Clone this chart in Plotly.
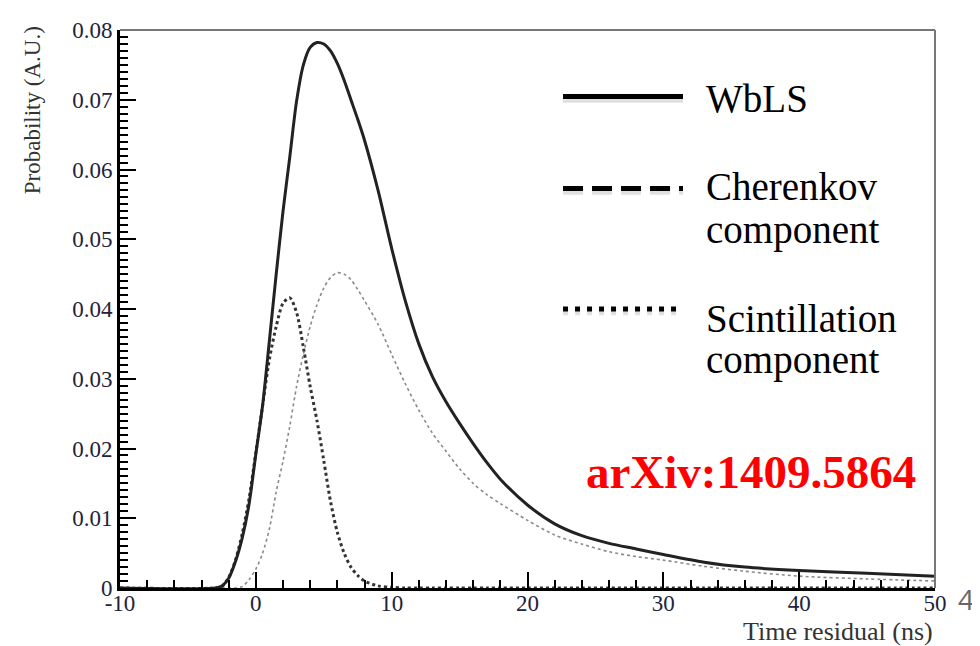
"""Time-residual PDFs for WbLS with its Cherenkov and scintillation parts."""

import plotly.graph_objects as go

# Time residual grid (ns) shared by the three curves
TIME_NS = [
    -10, -3, -2.5, -2, -1.5, -1, -0.5, 0, 0.5, 1, 1.5, 2, 2.5, 3, 3.5, 4, 4.5,
    5, 5.5, 6, 6.5, 7, 7.5, 8, 9, 10, 11, 12, 13, 14, 15, 16, 17, 18, 20, 22,
    24, 26, 28, 30, 33, 36, 40, 45, 50,
]

WBLS = [
    0, 0, 0.0003, 0.0014, 0.0038, 0.0072, 0.0120, 0.0192, 0.0262, 0.0355,
    0.0450, 0.0540, 0.0618, 0.0698, 0.0750, 0.0775, 0.0782, 0.0780, 0.0770,
    0.0752, 0.0728, 0.0700, 0.0672, 0.0642, 0.0570, 0.0487, 0.0412, 0.0350,
    0.0303, 0.0267, 0.0236, 0.0207, 0.0180, 0.0156, 0.0119, 0.0092, 0.0075,
    0.0064, 0.0056, 0.0048, 0.0037, 0.0030, 0.0025, 0.0021, 0.0017,
]

CHERENKOV = [
    0, 0, 0.0002, 0.0015, 0.0040, 0.0078, 0.0128, 0.0194, 0.0262, 0.0328,
    0.0375, 0.0408, 0.0416, 0.0395, 0.0345, 0.0289, 0.0240, 0.0183, 0.0124,
    0.0080, 0.0050, 0.0030, 0.0018, 0.0010, 0.0003, 0.0001, 0, 0, 0, 0, 0, 0,
    0, 0, 0, 0, 0, 0, 0, 0, 0, 0, 0, 0, 0,
]

SCINTILLATION = [
    0, 0, 0, 0, 0, 0.0002, 0.0012, 0.0027, 0.0050, 0.0085, 0.0138, 0.0182,
    0.0232, 0.0289, 0.0335, 0.0375, 0.0406, 0.0430, 0.0445, 0.0452, 0.0450,
    0.0442, 0.0428, 0.0412, 0.0378, 0.0335, 0.0293, 0.0255, 0.0222, 0.0196,
    0.0171, 0.0150, 0.0134, 0.0121, 0.0097, 0.0076, 0.0063, 0.0052, 0.0045,
    0.0040, 0.0031, 0.0024, 0.0017, 0.0013, 0.0010,
]

X_TICKS = [-10, 0, 10, 20, 30, 40, 50]
X_TICK_TEXT = ["-10", "0", "10", "20", "30", "40", "50"]
Y_TICKS = [0, 0.01, 0.02, 0.03, 0.04, 0.05, 0.06, 0.07, 0.08]

SERIF = "Liberation Serif"
TICK_COLOR = "#22223a"

fig = go.Figure()
fig.add_trace(
    go.Scatter(
        x=TIME_NS, y=SCINTILLATION, mode="lines", name="Scintillation component",
        line={"color": "#8a8a8a", "width": 1.6, "dash": "dot", "shape": "spline", "smoothing": 0.8},
    )
)
fig.add_trace(
    go.Scatter(
        x=TIME_NS, y=CHERENKOV, mode="lines", name="Cherenkov component",
        line={"color": "#333333", "width": 3, "dash": "dot", "shape": "spline", "smoothing": 0.8},
    )
)
fig.add_trace(
    go.Scatter(
        x=TIME_NS, y=WBLS, mode="lines", name="WbLS",
        line={"color": "#222222", "width": 3, "shape": "spline", "smoothing": 0.8},
    )
)

# ROOT frame: top and right edges are thin and grey
fig.add_shape(type="line", xref="paper", yref="paper", x0=0, x1=1, y0=1, y1=1,
              line={"color": "#777777", "width": 2})
fig.add_shape(type="line", xref="paper", yref="paper", x0=1, x1=1, y0=0, y1=1,
              line={"color": "#777777", "width": 2})

# Hand-drawn slide legend (long thick strokes, not Plotly's legend)
legend_rows = [("solid", 0.8807), ("20px,9px", 0.7158), ("5px,7px", 0.5000)]
for dash, y in legend_rows:
    fig.add_shape(
        type="line", xref="paper", yref="paper", x0=0.5436, x1=0.6908, y0=y - 0.005, y1=y - 0.005,
        line={"color": "rgba(0,0,0,0.12)", "width": 7, "dash": dash},
    )
    fig.add_shape(
        type="line", xref="paper", yref="paper", x0=0.5436, x1=0.6908, y0=y, y1=y,
        line={"color": "black", "width": 5, "dash": dash},
    )

legend_text = [
    ("WbLS", 0.877),
    ("Cherenkov", 0.719),
    ("component", 0.642),
    ("Scintillation", 0.4825),
    ("component", 0.4088),
]
for text, y in legend_text:
    fig.add_annotation(
        text=text, xref="paper", yref="paper", x=0.7165, y=y, xanchor="left", yanchor="middle",
        showarrow=False, font={"family": SERIF, "size": 39, "color": "black"},
    )

fig.add_annotation(
    text="<b>arXiv:1409.5864</b>", xref="paper", yref="paper", x=0.774, y=0.207,
    xanchor="center", yanchor="middle", showarrow=False,
    font={"family": SERIF, "size": 47, "color": "#ff0000"},
)

# Axis titles placed ROOT-style: y title at top, x title at right
fig.add_annotation(
    text="Probability (A.U.)", xref="paper", yref="paper", x=-0.107, y=1.01, textangle=-90,
    xanchor="center", yanchor="top", showarrow=False,
    font={"family": SERIF, "size": 23, "color": "#333333"},
)
fig.add_annotation(
    text="Time residual (ns)", xref="paper", yref="paper", x=1.0, y=-0.048,
    xanchor="right", yanchor="top", showarrow=False,
    font={"family": SERIF, "size": 26, "color": "#333333"},
)

# slide page number
fig.add_annotation(
    text="4", xref="paper", yref="paper", x=1.038, y=-0.02, xanchor="center", yanchor="middle",
    showarrow=False, font={"family": "Open Sans", "size": 28, "color": "#666666"},
)

# page body keeps an 8px margin, so the figure is 8px smaller than the window
fig.update_layout(
    width=972,
    height=638,
    template="plotly_white",
    showlegend=False,
    plot_bgcolor="white",
    paper_bgcolor="white",
    margin={"l": 112, "r": 45, "t": 10, "b": 58},
    xaxis={
        "range": [-10, 50],
        "tickvals": X_TICKS,
        "ticktext": X_TICK_TEXT,
        "ticks": "inside",
        "ticklen": 16,
        "tickwidth": 2,
        "tickcolor": "black",
        "minor": {"dtick": 2, "ticks": "inside", "ticklen": 8, "tickwidth": 2, "tickcolor": "black"},
        "showgrid": False,
        "zeroline": False,
        "showline": True,
        "linecolor": "black",
        "linewidth": 3,
        "ticklabelstandoff": -8,
        "ticklabeloverflow": "allow",
        "tickfont": {"family": SERIF, "size": 23, "color": TICK_COLOR},
    },
    yaxis={
        "range": [0, 0.08],
        "tickvals": Y_TICKS,
        "ticks": "inside",
        "ticklen": 16,
        "tickwidth": 2,
        "tickcolor": "black",
        "minor": {"dtick": 0.001, "ticks": "inside", "ticklen": 8, "tickwidth": 2, "tickcolor": "black"},
        "showgrid": False,
        "zeroline": False,
        "showline": True,
        "linecolor": "black",
        "linewidth": 3,
        "ticklabeloverflow": "allow",
        "tickfont": {"family": SERIF, "size": 23, "color": TICK_COLOR},
    },
)

fig.write_html("out.html")
